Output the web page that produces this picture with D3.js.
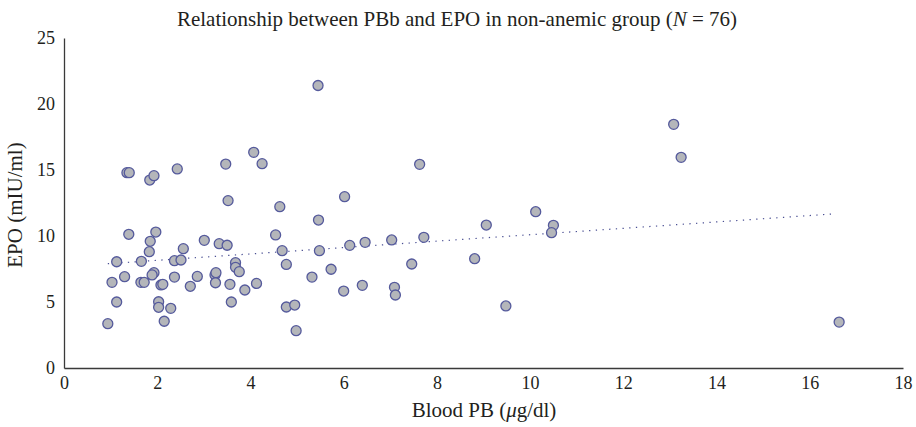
<!DOCTYPE html>
<html>
<head>
<meta charset="utf-8">
<script src="https://cdn.jsdelivr.net/npm/d3@7"></script>
<style>
  body { margin: 0; background: #fff; }
  svg text { font-family: "Liberation Serif", "DejaVu Serif", serif; fill: #231f20; }
</style>
</head>
<body>
<svg width="916" height="427"></svg>
<script>
// Blood PB (µg/dl) vs EPO (mIU/ml), non-anemic group
const pbValues = [
  5.45, 1.35, 1.40, 1.84, 1.93, 2.43, 3.47, 4.07, 4.25, 3.52,
  4.63, 5.46, 1.39, 1.97, 1.85, 1.83, 1.13, 1.66, 1.30, 1.03,
  1.13, 0.94, 1.65, 1.72, 1.93, 1.89, 2.08, 2.12, 2.03, 2.03,
  2.29, 2.15, 2.37, 2.51, 2.56, 2.37, 2.71, 2.86, 3.01, 3.33,
  3.50, 3.24, 3.26, 3.25, 3.56, 3.59, 3.68, 3.68, 3.76, 3.88,
  4.13, 4.54, 4.68, 4.77, 4.77, 4.95, 4.98, 5.32, 5.48, 5.73,
  6.00, 6.13, 6.46, 6.40, 7.03, 7.09, 7.11, 7.46, 7.72, 8.81,
  9.06, 9.48, 10.50, 10.46, 7.63, 6.02, 10.12, 13.08, 13.24, 16.63
];
const epoValues = [
  21.4, 14.8, 14.8, 14.24, 14.57, 15.08, 15.45, 16.34, 15.48, 12.68,
  12.22, 11.21, 10.13, 10.30, 9.60, 8.81, 8.05, 8.08, 6.92, 6.49,
  5.0, 3.36, 6.49, 6.49, 7.22, 7.05, 6.29, 6.34, 5.02, 4.6,
  4.52, 3.54, 8.13, 8.18, 9.04, 6.89, 6.19, 6.94, 9.67, 9.42,
  9.30, 7.05, 7.22, 6.46, 6.34, 5.0, 7.98, 7.63, 7.30, 5.91,
  6.41, 10.08, 8.89, 7.85, 4.62, 4.77, 2.83, 6.89, 8.89, 7.48,
  5.83, 9.29, 9.52, 6.26, 9.70, 6.11, 5.53, 7.88, 9.90, 8.28,
  10.83, 4.70, 10.81, 10.25, 15.43, 12.98, 11.84, 18.46, 15.96, 3.48
];
// linear trend line end points
const trendX = [0.94, 16.49];
const trendY = [7.9, 11.67];

const xTicks = [0, 2, 4, 6, 8, 10, 12, 14, 16, 18];
const yTicks = [0, 5, 10, 15, 20, 25];

const svg = d3.select("svg"),
  margin = { top: 38, right: 13, bottom: 59, left: 64 },
  width = +svg.attr("width") - margin.left - margin.right,
  height = +svg.attr("height") - margin.top - margin.bottom,
  x = d3.scaleLinear().domain([0, 18]).range([0, width]),
  y = d3.scaleLinear().domain([0, 25]).range([height, 0]),
  g = svg.append("g").attr("transform", `translate(${margin.left},${margin.top})`);

const points = pbValues.map((v, i) => ({ pb: v, epo: epoValues[i] }));

g.append("g")
  .attr("class", "axis axis-x")
  .attr("transform", `translate(0,${height})`)
  .call(d3.axisBottom(x).tickValues(xTicks).tickSize(0).tickPadding(8).tickSizeOuter(0));

g.append("g")
  .attr("class", "axis axis-y")
  .call(d3.axisLeft(y).tickValues(yTicks).tickSize(0).tickPadding(9).tickSizeOuter(0));

g.selectAll(".axis path").attr("stroke", "#3a3a3a").attr("stroke-width", 1.3);
g.selectAll(".axis text").style("font-size", "18px").attr("fill", "#231f20");

// trend line
g.append("line")
  .attr("x1", x(trendX[0])).attr("y1", y(trendY[0]))
  .attr("x2", x(trendX[1])).attr("y2", y(trendY[1]))
  .attr("stroke", "#4a4f93")
  .attr("stroke-width", 1.2)
  .attr("stroke-dasharray", "1.3,5.4");

g.selectAll(".dot")
  .data(points)
  .enter()
  .append("circle")
  .attr("class", "dot")
  .attr("cx", d => x(d.pb))
  .attr("cy", d => y(d.epo))
  .attr("r", 5)
  .attr("fill", "#b4b6ba")
  .attr("stroke", "#555a9c")
  .attr("stroke-width", 1.3);

// titles
const title = svg.append("text")
  .attr("x", 457).attr("y", 26)
  .attr("text-anchor", "middle")
  .style("font-size", "21px");
title.append("tspan").text("Relationship between PBb and EPO in non-anemic group (");
title.append("tspan").style("font-style", "italic").text("N");
title.append("tspan").text(" = 76)");

const xLabel = svg.append("text")
  .attr("x", 484).attr("y", 417)
  .attr("text-anchor", "middle")
  .style("font-size", "21px");
xLabel.append("tspan").text("Blood PB (");
xLabel.append("tspan").style("font-style", "italic").text("μ");
xLabel.append("tspan").text("g/dl)");

svg.append("text")
  .attr("transform", "translate(22,205) rotate(-90)")
  .attr("text-anchor", "middle")
  .style("font-size", "21px")
  .text("EPO (mIU/ml)");
</script>
</body>
</html>
